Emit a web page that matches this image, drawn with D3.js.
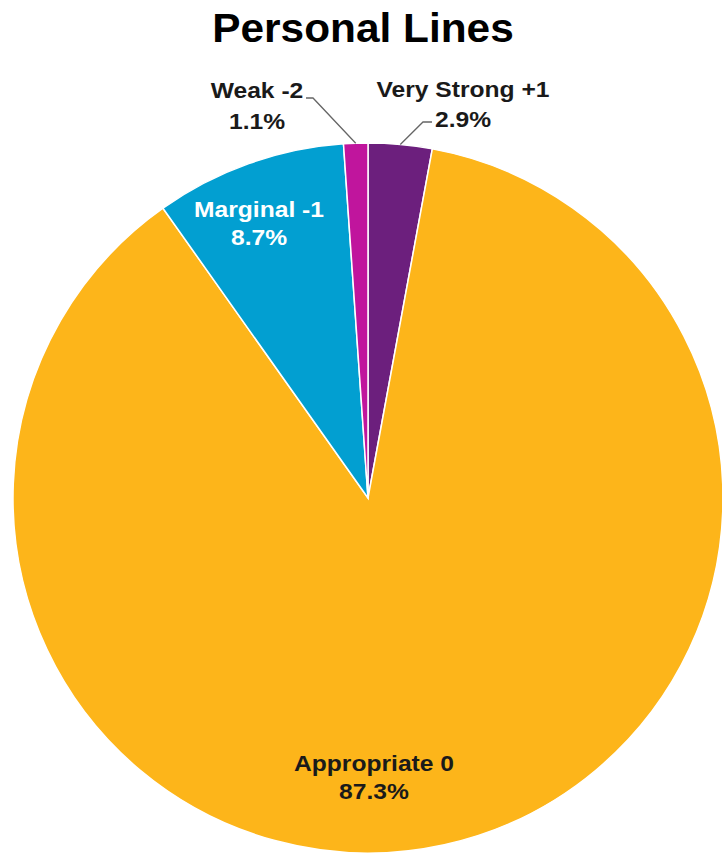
<!DOCTYPE html>
<html>
<head>
<meta charset="utf-8">
<script src="https://cdn.jsdelivr.net/npm/d3@7"></script>
<style>
  html, body { margin: 0; padding: 0; background: #fff; }
  svg { display: block; }
</style>
</head>
<body>
<svg id="chart" width="722" height="855"></svg>
<script>
// Slices in clockwise order from 12 o'clock
const categories = ["Very Strong +1", "Appropriate 0", "Marginal -1", "Weak -2"];
const shares = [2.9, 87.3, 8.7, 1.1];
const colors = ["#6c1f7d", "#fdb51a", "#029fd1", "#c0159d"];
const labelColors = ["#1a1a1a", "#1a1a1a", "#ffffff", "#1a1a1a"];

const W = 722, H = 855;
const cx = 368, cy = 498, R = 355;

const svg = d3.select("#chart");
const FONT = "Liberation Sans, Arial, sans-serif";

// Title, slightly widened
svg.append("text")
  .attr("transform", "translate(363,42) scale(1.06,1)")
  .attr("text-anchor", "middle")
  .attr("font-family", FONT)
  .attr("font-weight", "bold")
  .attr("font-size", 40)
  .attr("fill", "#000")
  .text("Personal Lines");

const data = categories.map((c, i) => ({ name: c, value: shares[i], color: colors[i], lc: labelColors[i] }));

const pie = d3.pie().sort(null).value(d => d.value);
const arcs = pie(data);
const arc = d3.arc().innerRadius(0).outerRadius(R);

const g = svg.append("g").attr("transform", `translate(${cx},${cy})`);

g.selectAll("path")
  .data(arcs)
  .join("path")
  .attr("d", arc)
  .attr("fill", d => d.data.color)
  .attr("stroke", "#fff")
  .attr("stroke-width", 1.5);

// Label placement: inside for large slices, outside with leader lines for small ones
const labelPos = {
  "Very Strong +1": { x: 463, y: 97, gap: 30, outside: true },
  "Appropriate 0": { x: 374, y: 771, gap: 28, outside: false },
  "Marginal -1": { x: 259, y: 217, gap: 28, outside: false },
  "Weak -2": { x: 257, y: 98, gap: 31, outside: true }
};

const edgePoint = (d, rr) => {
  const a = (d.startAngle + d.endAngle) / 2;
  return [cx + rr * Math.sin(a), cy - rr * Math.cos(a)];
};

arcs.forEach(d => {
  const p = labelPos[d.data.name];
  if (!p.outside) return;
  const [ex, ey] = edgePoint(d, R);
  const pts = d.data.name === "Weak -2"
    ? [[306, 98], [313, 98], [ex, ey]]
    : [[432, 122], [423, 122], [ex, ey]];
  svg.append("path")
    .attr("d", d3.line()(pts))
    .attr("fill", "none")
    .attr("stroke", "#666")
    .attr("stroke-width", 1.3);
});

const labels = svg.append("g")
  .attr("font-family", FONT)
  .attr("font-weight", "bold")
  .attr("font-size", 22)
  .attr("text-anchor", "middle");

arcs.forEach(d => {
  const p = labelPos[d.data.name];
  const t = labels.append("g")
    .attr("transform", `translate(${p.x},0) scale(1.12,1)`)
    .append("text").attr("fill", d.data.lc);
  t.append("tspan").attr("x", 0).attr("y", p.y).text(d.data.name);
  t.append("tspan").attr("x", 0).attr("y", p.y + p.gap).text(d.data.value.toFixed(1) + "%");
});
</script>
</body>
</html>
